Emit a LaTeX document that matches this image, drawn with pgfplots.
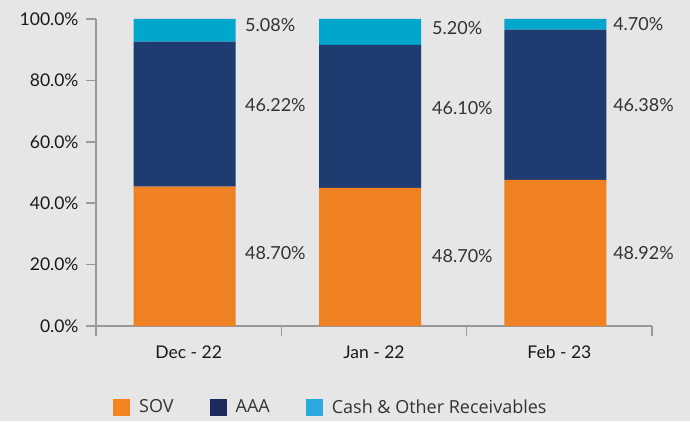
\documentclass[border=0pt]{standalone}
\usepackage{fontspec}
\setmainfont{Lato}
\newfontfamily\legfont{Open Sans}
\usepackage{pgfplots}
\pgfplotsset{compat=1.18}
\definecolor{bg}{HTML}{E6E6E6}
\definecolor{sov}{HTML}{F08122}
\definecolor{aaa}{HTML}{1E3C70}
\definecolor{cash}{HTML}{00A6CC}
\definecolor{lsov}{HTML}{F3841F}
\definecolor{laaa}{HTML}{1F2A5C}
\definecolor{lcash}{HTML}{29A9E0}
\definecolor{axgray}{HTML}{999999}
\definecolor{txt}{HTML}{333333}
\tikzset{lbl/.style={anchor=west, inner sep=0pt, text=txt, font=\fontsize{18}{20}\selectfont}}
\begin{document}
\begin{tikzpicture}[x=1pt,y=1pt]
\fill[bg] (0,0) rectangle (690,421);
\useasboundingbox (0,0) rectangle (690,421);
\begin{axis}[
  at={(96pt,95pt)}, anchor=south west,
  scale only axis, width=556pt, height=307pt, clip=false,
  xmin=-0.5, xmax=2.5, ymin=0, ymax=100,
  ybar stacked, bar width=102pt,
  axis x line*=bottom, axis y line*=left,
  axis line style={axgray, line width=1.6pt, -},
  tick align=outside, major tick length=10pt,
  tick style={axgray, line width=1.6pt},
  ytick={0,20,40,60,80,100},
  yticklabels={0.0\%,20.0\%,40.0\%,60.0\%,80.0\%,100.0\%},
  xtick={-0.5,0.5,1.5,2.5},
  xticklabels={},
  extra x ticks={0,1,2},
  extra x tick labels={Dec - 22, Jan - 22, Feb - 23},
  extra x tick style={major tick length=0pt},
  tick label style={font=\fontsize{17.5}{20}\selectfont, text=black!90},
  yticklabel style={xshift=-4pt},
  xticklabel style={yshift=-16pt},
  legend style={at={(axis description cs:0,0)}, anchor=west, xshift=14pt, yshift=-81pt,
    draw=none, fill=none, font=\legfont\fontsize{18}{20}\selectfont, text=txt,
    legend columns=3,
    /tikz/every odd column/.append style={column sep=7pt},
    /tikz/every even column/.append style={column sep=34pt}},
]
\addplot[fill=sov, draw=none, bar shift=-4pt,
  legend image code/.code={\fill[lsov] (0pt,-8.5pt) rectangle (17pt,8.5pt);}] coordinates {(0,45.4) (1,45.0) (2,47.6)};
\addlegendentry{SOV}
\addplot[fill=aaa, draw=none, bar shift=-4pt,
  legend image code/.code={\fill[laaa] (0pt,-8.5pt) rectangle (17pt,8.5pt);}] coordinates {(0,47.2) (1,46.6) (2,48.9)};
\addlegendentry{AAA}
\addplot[fill=cash, draw=none, bar shift=-4pt,
  legend image code/.code={\fill[lcash] (0pt,-8.5pt) rectangle (17pt,8.5pt);}] coordinates {(0,7.4) (1,8.4) (2,3.5)};
\addlegendentry{Cash \& Other Receivables}
\node[lbl] at (axis cs:0.304,98.0) {5.08\%};
\node[lbl] at (axis cs:0.304,72.0) {46.22\%};
\node[lbl] at (axis cs:0.304,23.8) {48.70\%};
\node[lbl] at (axis cs:1.313,97.1) {5.20\%};
\node[lbl] at (axis cs:1.313,71.0) {46.10\%};
\node[lbl] at (axis cs:1.313,22.8) {48.70\%};
\node[lbl] at (axis cs:2.29,98.4) {4.70\%};
\node[lbl] at (axis cs:2.29,72.0) {46.38\%};
\node[lbl] at (axis cs:2.29,23.8) {48.92\%};
\end{axis}
\end{tikzpicture}
\end{document}
